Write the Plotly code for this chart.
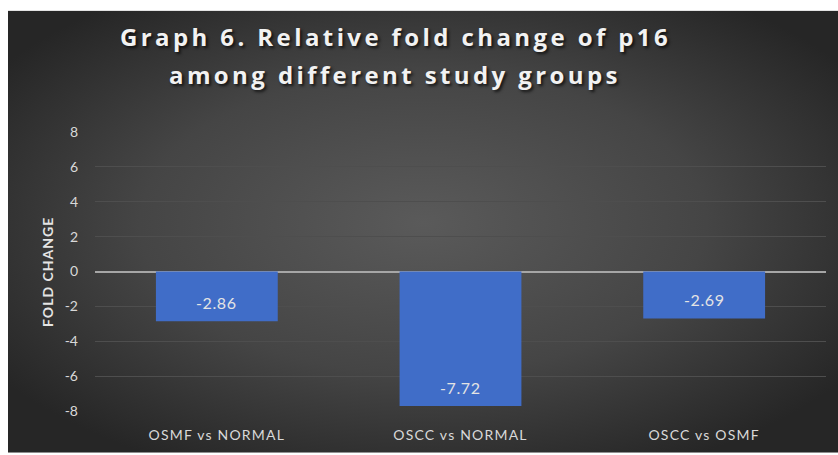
import base64
import plotly.graph_objects as go

categories = ["OSMF vs NORMAL", "OSCC vs NORMAL", "OSCC vs OSMF"]
fold_change = [-2.86, -7.72, -2.69]
y_ticks = [-8, -6, -4, -2, 0, 2, 4, 6, 8]
title_lines = ["Graph 6. Relative fold change of p16", "among different study groups"]
y_title = "FOLD CHANGE"

W, H = 838, 455
L, R, T, B = 95, 12, 132, 42
plot_w, plot_h = W - L - R, H - T - B


def spaced(text, px):
    return f'<span style="letter-spacing:{px}px">{text}</span>'


# dark radial-gradient chart area inside a thin white border
svg = f"""<svg xmlns='http://www.w3.org/2000/svg' width='{W}' height='{H}' viewBox='0 0 {W} {H}'>
<defs><radialGradient id='g' cx='50%' cy='48%' r='62%'>
<stop offset='0' stop-color='#5a5a5a'/><stop offset='0.55' stop-color='#454545'/><stop offset='1' stop-color='#262626'/>
</radialGradient></defs>
<rect width='{W}' height='{H}' fill='white'/>
<rect x='8' y='10' width='{W-8}' height='{H-10}' fill='url(#g)'/>
</svg>"""
bg_uri = "data:image/svg+xml;base64," + base64.b64encode(svg.encode()).decode()

fig = go.Figure()
fig.add_trace(go.Bar(
    x=categories, y=fold_change, width=0.5,
    marker=dict(color="#406dc8", line=dict(width=0)),
    hoverinfo="skip",
))

annotations = []
# value labels, inside the bar near its end
for c, v in zip(categories, fold_change):
    annotations.append(dict(
        x=c, y=v, xref="x", yref="y", text=spaced(f"{v:.2f}", 0.6), showarrow=False,
        yshift=19, font=dict(family="Lato", size=16, color="#e4e4e4"),
    ))

# two-line title with a soft drop shadow
title_y = [36, 74]
for line, py in zip(title_lines, title_y):
    annotations.append(dict(
        x=(395 - L) / plot_w, y=(H - B - py) / plot_h, xref="paper", yref="paper",
        text=f"<b>{spaced(line, 3.4)}</b>", showarrow=False,
        xanchor="center", yanchor="middle",
        font=dict(family="Open Sans", size=24, color="#f2f2f2",
                  shadow="2px 2px 3px rgba(0,0,0,0.7)"),
    ))

annotations.append(dict(
    x=(48 - L) / plot_w, y=(H - B - 273) / plot_h, xref="paper", yref="paper",
    text=f"<b>{spaced(y_title, 1)}</b>", textangle=-90, showarrow=False,
    xanchor="center", yanchor="middle",
    font=dict(family="Lato", size=14, color="#e4e4e4"),
))

fig.update_layout(
    width=W, height=H,
    margin=dict(l=L, r=R, t=T, b=B, pad=0),
    paper_bgcolor="white",
    plot_bgcolor="rgba(0,0,0,0)",
    showlegend=False,
    annotations=annotations,
    images=[dict(
        source=bg_uri, xref="paper", yref="paper",
        x=-L / plot_w, y=(H - B) / plot_h,
        sizex=W / plot_w, sizey=H / plot_h,
        xanchor="left", yanchor="top", sizing="stretch", layer="below",
    )],
)
fig.update_xaxes(
    tickvals=categories, ticktext=[spaced(c, 1.2) for c in categories],
    showgrid=False, showline=False, zeroline=False, ticks="",
    tickfont=dict(family="Lato", size=14, color="#d9d9d9"),
    ticklabelstandoff=14,
)
fig.update_yaxes(
    range=[-8, 8], tickvals=y_ticks, ticktext=[str(t) for t in y_ticks],
    showgrid=True, gridcolor="#4e4e4e", gridwidth=1,
    zeroline=True, zerolinecolor="#a6a6a6", zerolinewidth=2,
    showline=False, ticks="",
    tickfont=dict(family="Lato", size=14, color="#d9d9d9"),
    ticklabelstandoff=16,
)

fig.write_html("out.html")
